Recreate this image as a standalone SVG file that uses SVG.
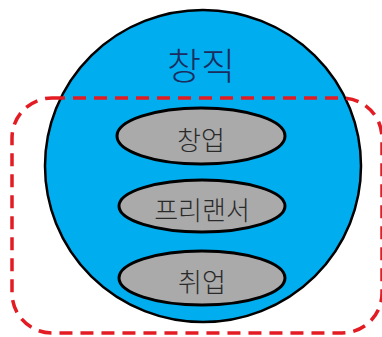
<svg xmlns="http://www.w3.org/2000/svg" width="382" height="337" viewBox="0 0 382 337">
<style>
.big{fill:#00adef;stroke:#000;stroke-width:2.5}
.sub{fill:#aaaaaa;stroke:#000;stroke-width:3}
.lbl{font-family:"Noto Sans CJK KR","Noto Sans",sans-serif;font-weight:300;fill:#2a2a2a;text-anchor:middle;dominant-baseline:central}
.dash{fill:none;stroke:#e31b23;stroke-width:3.5;stroke-dasharray:13 8}
</style>
<rect width="382" height="337" fill="#fff"/>
<g id="changjik">
<ellipse class="big" cx="203" cy="166" rx="158" ry="156"/>
<text class="lbl" x="201" y="64" font-size="37" style="fill:#1b2d5e">창직</text>
</g>
<g id="changup">
<ellipse class="sub" cx="201" cy="136" rx="84" ry="28"/>
<text class="lbl" x="201" y="138" font-size="26">창업</text>
</g>
<g id="freelancer">
<ellipse class="sub" cx="202" cy="206" rx="83" ry="26"/>
<text class="lbl" x="202" y="208" font-size="26">프리랜서</text>
</g>
<g id="chwiup">
<ellipse class="sub" cx="202" cy="278" rx="83" ry="27"/>
<text class="lbl" x="202" y="280" font-size="26">취업</text>
</g>
<g id="group">
<rect class="dash" x="12" y="98" width="370" height="235" rx="40" ry="40"/>
</g>
</svg>
